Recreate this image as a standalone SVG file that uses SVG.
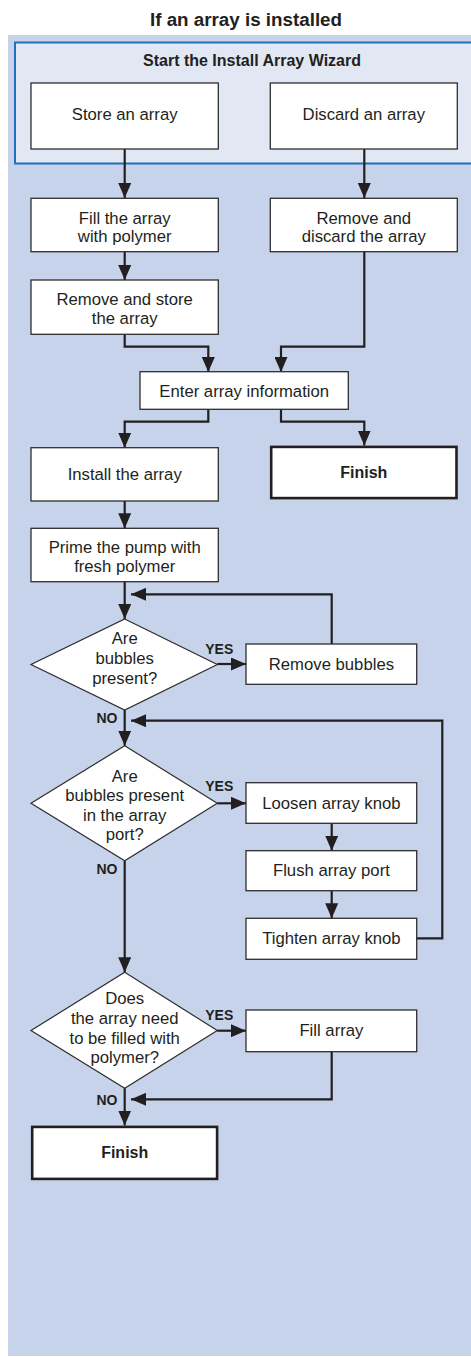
<svg xmlns="http://www.w3.org/2000/svg" width="471" height="1357" viewBox="0 0 471 1357">
<defs>
<marker id="ah" markerUnits="userSpaceOnUse" markerWidth="15" markerHeight="13" refX="15" refY="6.5" orient="auto">
<path d="M0,0 L15,6.5 L0,13 z" fill="#231F20"/>
</marker>
<style>
text{font-family:"Liberation Sans",Arial,Helvetica,sans-serif;fill:#231F20;text-anchor:middle}
.t{font-size:16.7px}
.b{font-size:16px;font-weight:bold}
.title{font-size:18.8px;font-weight:bold}
.lbl{font-size:14px;font-weight:bold}
.box{fill:#fff;stroke:#2E2E2E;stroke-width:1.3}
.fin{fill:#fff;stroke:#231F20;stroke-width:2.6}
.dia{fill:#fff;stroke:#2E2E2E;stroke-width:1.2}
.con{fill:none;stroke:#231F20;stroke-width:2.2;marker-end:url(#ah)}
.line{fill:none;stroke:#231F20;stroke-width:2.2}
</style>
</defs>
<rect x="0" y="0" width="471" height="1357" fill="#fff"/>
<text class="title" x="246" y="25.5">If an array is installed</text>
<rect x="8" y="35" width="463" height="1321" fill="#C7D3EA"/>
<g id="wizard">
<rect x="15" y="42.5" width="470" height="121" fill="#E1E7F3" stroke="#1F72B8" stroke-width="2"/>
<text class="b" x="252" y="65.5">Start the Install Array Wizard</text>
</g>
<g id="connectors">
<path class="con" d="M124.7,149 V198"/>
<path class="con" d="M364.3,149 V198"/>
<path class="con" d="M124.7,252 V280"/>
<path class="con" d="M124.7,334 V346.7 H208.3 V372"/>
<path class="con" d="M364.3,252 V346.7 H281 V372"/>
<path class="con" d="M208.3,409 V421.7 H124.7 V447.7"/>
<path class="con" d="M281,409 V421.7 H364.3 V445.5"/>
<path class="con" d="M124.7,501 V528.3"/>
<path class="con" d="M124.7,581.7 V619"/>
<path class="con" d="M217.3,664 H246"/>
<path class="con" d="M331.7,644 V594.3 H131"/>
<path class="con" d="M124.7,710 V745.7"/>
<path class="con" d="M217.3,803.3 H246"/>
<path class="con" d="M331.7,823.3 V850.7"/>
<path class="con" d="M331.7,890.7 V918.3"/>
<path class="con" d="M416.7,938.3 H442.3 V720.7 H131"/>
<path class="con" d="M124.7,860.7 V972.3"/>
<path class="con" d="M217.3,1030.7 H246"/>
<path class="con" d="M331.7,1051.7 V1099.3 H131"/>
<path class="con" d="M124.7,1088.3 V1125.5"/>
</g>
<g id="store">
<rect class="box" x="31" y="83" width="187.3" height="66"/>
<text class="t" x="124.7" y="120">Store an array</text>
</g>
<g id="discard">
<rect class="box" x="270.3" y="83" width="187" height="66"/>
<text class="t" x="363.8" y="120">Discard an array</text>
</g>
<g id="fill-polymer">
<rect class="box" x="31" y="198.3" width="187.3" height="53.4"/>
<text class="t" x="124.7" y="223.5">Fill the array</text>
<text class="t" x="124.7" y="242">with polymer</text>
</g>
<g id="remove-discard">
<rect class="box" x="270.3" y="198.3" width="187" height="53.4"/>
<text class="t" x="363.8" y="223.5">Remove and</text>
<text class="t" x="363.8" y="242">discard the array</text>
</g>
<g id="remove-store">
<rect class="box" x="31" y="280" width="187.3" height="54.3"/>
<text class="t" x="124.7" y="305.3">Remove and store</text>
<text class="t" x="124.7" y="323.8">the array</text>
</g>
<g id="enter-info">
<rect class="box" x="140" y="371.7" width="208.3" height="37.6"/>
<text class="t" x="244.2" y="396.5">Enter array information</text>
</g>
<g id="install">
<rect class="box" x="31" y="447.7" width="187.3" height="53.3"/>
<text class="t" x="124.7" y="480">Install the array</text>
</g>
<g id="finish-top">
<rect class="fin" x="271.2" y="446.9" width="185.3" height="51.2"/>
<text class="b" x="363.8" y="478">Finish</text>
</g>
<g id="prime">
<rect class="box" x="31" y="528.3" width="187.3" height="53.4"/>
<text class="t" x="124.7" y="553">Prime the pump with</text>
<text class="t" x="124.7" y="572">fresh polymer</text>
</g>
<g id="decision-bubbles">
<path class="dia" d="M124.7,619 L217.3,664.5 L124.7,710 L31,664.5 z"/>
<text class="t" x="124.7" y="644">Are</text>
<text class="t" x="124.7" y="663.7">bubbles</text>
<text class="t" x="124.7" y="683.7">present?</text>
<text class="lbl" x="219.3" y="654">YES</text>
<text class="lbl" x="107" y="722.5">NO</text>
</g>
<g id="remove-bubbles">
<rect class="box" x="246" y="644" width="170.7" height="40.3"/>
<text class="t" x="331.4" y="669.5">Remove bubbles</text>
</g>
<g id="decision-port">
<path class="dia" d="M124.7,745.7 L217.3,803.3 L124.7,860.7 L31,803.3 z"/>
<text class="t" x="124.7" y="781.5">Are</text>
<text class="t" x="124.7" y="801">bubbles present</text>
<text class="t" x="124.7" y="820.7">in the array</text>
<text class="t" x="124.7" y="840.3">port?</text>
<text class="lbl" x="219.3" y="791">YES</text>
<text class="lbl" x="107" y="874.2">NO</text>
</g>
<g id="loosen">
<rect class="box" x="246" y="782.7" width="170.7" height="40.6"/>
<text class="t" x="331.4" y="808.5">Loosen array knob</text>
</g>
<g id="flush">
<rect class="box" x="246" y="850.7" width="170.7" height="40"/>
<text class="t" x="331.4" y="876">Flush array port</text>
</g>
<g id="tighten">
<rect class="box" x="246" y="918.3" width="170.7" height="41"/>
<text class="t" x="331.4" y="944">Tighten array knob</text>
</g>
<g id="decision-fill">
<path class="dia" d="M124.7,972.3 L217.3,1030.5 L124.7,1088.3 L31,1030.5 z"/>
<text class="t" x="124.7" y="1003.5">Does</text>
<text class="t" x="124.7" y="1024">the array need</text>
<text class="t" x="124.7" y="1043.5">to be filled with</text>
<text class="t" x="124.7" y="1063">polymer?</text>
<text class="lbl" x="219.3" y="1019.6">YES</text>
<text class="lbl" x="107" y="1104.5">NO</text>
</g>
<g id="fill-array">
<rect class="box" x="246" y="1010" width="170.7" height="41.7"/>
<text class="t" x="331.4" y="1036">Fill array</text>
</g>
<g id="finish-bottom">
<rect class="fin" x="32.2" y="1126.9" width="184.9" height="52"/>
<text class="b" x="124.7" y="1157.5">Finish</text>
</g>
</svg>
